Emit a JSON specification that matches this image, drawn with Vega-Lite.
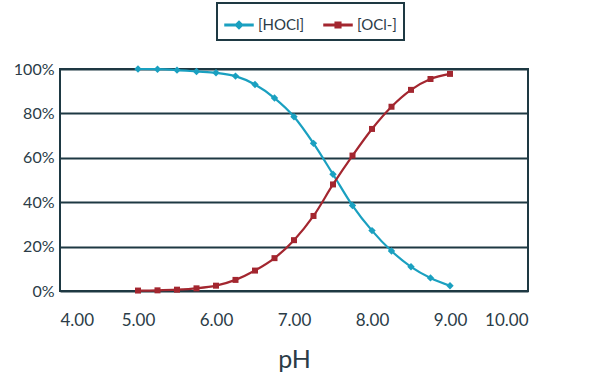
{
  "$schema": "https://vega.github.io/schema/vega-lite/v6.json",
  "width": 468,
  "height": 222,
  "autosize": {"type": "none"},
  "padding": {"left": 60, "top": 69, "right": 67, "bottom": 85},
  "background": "white",
  "data": {
    "values": [
      {"pH": 5.00, "species": "[HOCl]", "fraction": 1.000},
      {"pH": 5.25, "species": "[HOCl]", "fraction": 0.999},
      {"pH": 5.50, "species": "[HOCl]", "fraction": 0.995},
      {"pH": 5.75, "species": "[HOCl]", "fraction": 0.989},
      {"pH": 6.00, "species": "[HOCl]", "fraction": 0.983},
      {"pH": 6.25, "species": "[HOCl]", "fraction": 0.968},
      {"pH": 6.50, "species": "[HOCl]", "fraction": 0.930},
      {"pH": 6.75, "species": "[HOCl]", "fraction": 0.869},
      {"pH": 7.00, "species": "[HOCl]", "fraction": 0.785},
      {"pH": 7.25, "species": "[HOCl]", "fraction": 0.665},
      {"pH": 7.50, "species": "[HOCl]", "fraction": 0.526},
      {"pH": 7.75, "species": "[HOCl]", "fraction": 0.385},
      {"pH": 8.00, "species": "[HOCl]", "fraction": 0.272},
      {"pH": 8.25, "species": "[HOCl]", "fraction": 0.180},
      {"pH": 8.50, "species": "[HOCl]", "fraction": 0.109},
      {"pH": 8.75, "species": "[HOCl]", "fraction": 0.059},
      {"pH": 9.00, "species": "[HOCl]", "fraction": 0.024},
      {"pH": 5.00, "species": "[OCl-]", "fraction": 0.002},
      {"pH": 5.25, "species": "[OCl-]", "fraction": 0.003},
      {"pH": 5.50, "species": "[OCl-]", "fraction": 0.006},
      {"pH": 5.75, "species": "[OCl-]", "fraction": 0.012},
      {"pH": 6.00, "species": "[OCl-]", "fraction": 0.024},
      {"pH": 6.25, "species": "[OCl-]", "fraction": 0.050},
      {"pH": 6.50, "species": "[OCl-]", "fraction": 0.092},
      {"pH": 6.75, "species": "[OCl-]", "fraction": 0.148},
      {"pH": 7.00, "species": "[OCl-]", "fraction": 0.229},
      {"pH": 7.25, "species": "[OCl-]", "fraction": 0.338},
      {"pH": 7.50, "species": "[OCl-]", "fraction": 0.480},
      {"pH": 7.75, "species": "[OCl-]", "fraction": 0.610},
      {"pH": 8.00, "species": "[OCl-]", "fraction": 0.730},
      {"pH": 8.25, "species": "[OCl-]", "fraction": 0.830},
      {"pH": 8.50, "species": "[OCl-]", "fraction": 0.906},
      {"pH": 8.75, "species": "[OCl-]", "fraction": 0.955},
      {"pH": 9.00, "species": "[OCl-]", "fraction": 0.978}
    ]
  },
  "encoding": {
    "x": {
      "field": "pH", "type": "quantitative",
      "scale": {"domain": [4, 10], "nice": false, "zero": false},
      "axis": {"values": [4, 5, 6, 7, 8, 9, 10], "format": ".2f", "grid": false, "labelFontSize": 17, "labelPadding": 21, "title": "pH", "titleFontSize": 25, "titlePadding": 19}
    },
    "y": {
      "field": "fraction", "type": "quantitative",
      "scale": {"domain": [0, 1], "nice": false},
      "axis": {"values": [0, 0.2, 0.4, 0.6, 0.8, 1], "format": ".0%", "grid": true, "gridColor": "#1e3943", "gridWidth": 2, "gridOpacity": 1, "labelFontSize": 16, "labelPadding": 6, "title": null}
    },
    "color": {
      "field": "species", "type": "nominal",
      "scale": {"domain": ["[HOCl]", "[OCl-]"], "range": ["#1aa0c0", "#a3262f"]}
    }
  },
  "layer": [
    {"mark": {"type": "line", "interpolate": "monotone", "strokeWidth": 2.2}},
    {
      "transform": [{"filter": "datum.species == '[HOCl]'"}],
      "mark": {"type": "point", "shape": "diamond", "filled": true, "size": 55, "opacity": 1}
    },
    {
      "transform": [{"filter": "datum.species == '[OCl-]'"}],
      "mark": {"type": "point", "shape": "square", "filled": true, "size": 36, "opacity": 1}
    },
    {
      "mark": {"type": "point", "filled": true, "opacity": 0},
      "encoding": {
        "shape": {
          "field": "species", "type": "nominal",
          "scale": {"domain": ["[HOCl]", "[OCl-]"], "range": ["M-1,-0.06H1V0.06H-1Z M-0.27,0L0,-0.27L0.27,0L0,0.27Z", "M-1,-0.06H1V0.06H-1Z M-0.2,-0.2H0.2V0.2H-0.2Z"]}
        }
      }
    }
  ],
  "config": {
    "font": "Lato",
    "view": {"stroke": "#1e3943", "strokeWidth": 2},
    "axis": {"labelColor": "#2b3c47", "titleColor": "#2b3c47", "ticks": false, "domain": false, "titleFontWeight": "normal"},
    "legend": {
      "orient": "none", "legendX": 157, "legendY": -66, "direction": "horizontal",
      "title": null, "labelFontSize": 15, "labelColor": "#2b3c47", "symbolSize": 784,
      "symbolOpacity": 1, "columnPadding": 16, "labelOffset": 4, "padding": 7,
      "strokeColor": "#1e3943", "strokeWidth": 2
    }
  }
}
